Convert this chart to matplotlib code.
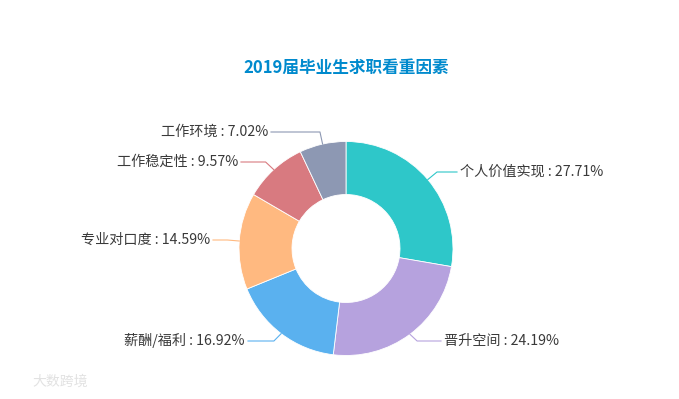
import matplotlib.pyplot as plt
import numpy as np

plt.rcParams['font.family'] = ['Noto Sans CJK SC', 'DejaVu Sans']

title = '2019届毕业生求职看重因素'
labels = ['个人价值实现', '晋升空间', '薪酬/福利', '专业对口度', '工作稳定性', '工作环境']
shares = [27.71, 24.19, 16.92, 14.59, 9.57, 7.02]
colors = ['#2ec7c9', '#b6a2de', '#5ab1ef', '#ffb980', '#d87a80', '#8d98b3']

# where each label sits (pixels, y from top)
label_pos = [(460, 172), (444, 341), (245, 341), (210, 240), (238, 162), (268, 132)]

W, H = 679, 399
cx, cy, r = 346, H - 248.5, 107

fig = plt.figure(figsize=(W / 100, H / 100), dpi=100)
ax = fig.add_axes([0, 0, 1, 1])
wedges, _ = ax.pie(shares, colors=colors, startangle=90, counterclock=False,
                   radius=r, center=(cx, cy),
                   wedgeprops=dict(width=r - 54, edgecolor='white', linewidth=0.6))
ax.set_xlim(0, W)
ax.set_ylim(0, H)
ax.axis('off')

# leader lines + labels
for w, lab, val, col, (tx, ty) in zip(wedges, labels, shares, colors, label_pos):
    ang = np.deg2rad((w.theta1 + w.theta2) / 2)
    ex, ey = cx + r * np.cos(ang), cy + r * np.sin(ang)
    ty = H - ty
    side = 1 if np.cos(ang) > 0 else -1
    kx = ex + 12 * np.cos(ang)
    ax.plot([ex, kx, tx - side * 3], [ey, ty, ty], color=col, lw=0.8)
    ax.text(tx, ty, f'{lab} : {val:.2f}%', ha='left' if side > 0 else 'right',
            va='center', fontsize=10.2, color='#3a3a3a')

fig.text(346 / W, 1 - 68 / H, title, ha='center', va='center',
         fontsize=12, fontweight='bold', color='#008acd')

# faint watermark
fig.text(32 / W, 1 - 382 / H, '大数跨境', ha='left', va='center',
         fontsize=10, color='#e2e2e2')

fig.savefig('out.png', dpi=100)
